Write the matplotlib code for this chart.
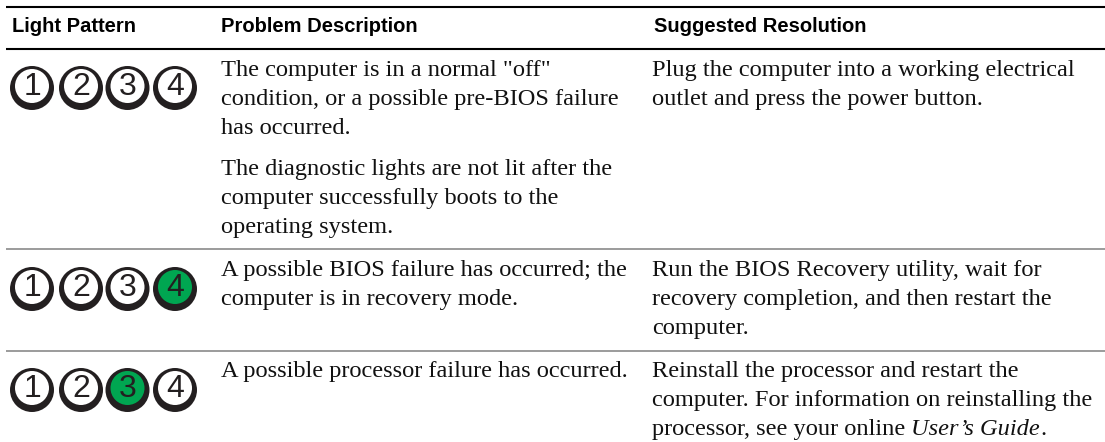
from matplotlib import pyplot as plt
from matplotlib.patches import Circle

headers = ["Light Pattern", "Problem Description", "Suggested Resolution"]
digits = ["1", "2", "3", "4"]
lit = [None, "4", "3"]

problem_1 = ['The computer is in a normal "off"',
             'condition, or a possible pre-BIOS failure',
             'has occurred.']
problem_1b = ['The diagnostic lights are not lit after the',
              'computer successfully boots to the',
              'operating system.']
problem_2 = ['A possible BIOS failure has occurred; the',
             'computer is in recovery mode.']
problem_3 = ['A possible processor failure has occurred.']

fix_1 = ['Plug the computer into a working electrical',
         'outlet and press the power button.']
fix_2 = ['Run the BIOS Recovery utility, wait for',
         'recovery completion, and then restart the',
         'computer.']
fix_3 = ['Reinstall the processor and restart the',
         'computer. For information on reinstalling the',
         'processor, see your online ']
fix_3_italic = "User\u2019s Guide"

W, H = 1105, 442
SERIF = "Liberation Serif"
BODY = 17.6
LINE = 29
GREEN = "#00a651"
DARK = "#231f20"
INK = "#111111"

fig = plt.figure(figsize=(W / 100, H / 100), dpi=100)
ax = fig.add_axes([0, 0, 1, 1])
ax.set_xlim(0, W)
ax.set_ylim(H, 0)
ax.axis("off")

# rules
ax.plot([6, W], [7, 7], color="black", lw=1.5, solid_capstyle="butt")
ax.plot([6, W], [49, 49], color="black", lw=1.5, solid_capstyle="butt")
ax.plot([6, W], [249, 249], color="#808080", lw=1.1, solid_capstyle="butt")
ax.plot([6, W], [351, 351], color="#808080", lw=1.1, solid_capstyle="butt")

# header
for x, h in zip([12, 221, 654], headers):
    ax.text(x, 32, h, family="Liberation Sans", weight="bold", fontsize=14.5,
            va="baseline", color="black")


def block(x, y, lines):
    for i, s in enumerate(lines):
        ax.text(x, y + i * LINE, s, family=SERIF, fontsize=BODY,
                va="baseline", color=INK)


def right_edge(t):
    fig.canvas.draw()
    return ax.transData.inverted().transform((t.get_window_extent().x1, 0))[0]


block(221, 76, problem_1)
block(221, 175, problem_1b)
block(221, 276, problem_2)
block(221, 377, problem_3)
block(652, 76, fix_1)
block(652, 276, fix_2)
block(652, 377, fix_3)

# italic part follows the last roman line
y_last = 377 + 2 * LINE
t = ax.text(right_edge(ax.texts[-1]), y_last, fix_3_italic, family=SERIF,
            style="italic", fontsize=BODY, va="baseline", color=INK)
ax.text(right_edge(t), y_last, ".", family=SERIF, fontsize=BODY,
        va="baseline", color=INK)

# lights
for yc, on in zip([88, 289, 390], lit):
    for xc, d in zip([32, 81, 127.5, 175], digits):
        ax.add_patch(Circle((xc, yc), 22, fc=DARK, ec="none"))
        ax.add_patch(Circle((xc, yc - 2), 17, ec="none",
                            fc=GREEN if d == on else "white"))
        ax.text(xc, yc + 7, d, family="Liberation Sans", fontsize=23,
                ha="center", va="baseline", color=DARK)

fig.savefig("out.png", dpi=100)
